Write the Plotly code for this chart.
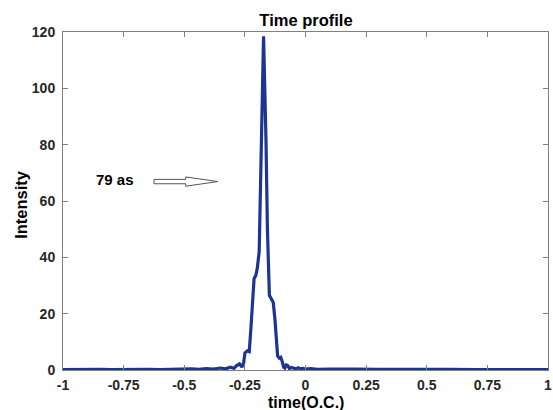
import plotly.graph_objects as go

# time axis (optical cycles)
time_oc = [-1.0, -0.95, -0.9, -0.85, -0.8, -0.75, -0.7, -0.65, -0.6, -0.55,
           -0.5, -0.47, -0.44, -0.41, -0.38, -0.35, -0.33, -0.31, -0.295, -0.285,
           -0.272, -0.262, -0.255, -0.25, -0.24, -0.232, -0.225, -0.217, -0.212, -0.205,
           -0.199, -0.191, -0.182, -0.173, -0.163, -0.157, -0.149, -0.141, -0.133, -0.126,
           -0.12, -0.115, -0.108, -0.102, -0.096, -0.09, -0.085, -0.079, -0.073, -0.066,
           -0.058, -0.05, -0.04, -0.03, -0.02, -0.01, 0.0, 0.02, 0.05, 0.1,
           0.15, 0.2, 0.3, 0.4, 0.5, 0.6, 0.7, 0.8, 0.9, 1.0]

intensity = [0.1, 0.2, 0.1, 0.25, 0.1, 0.2, 0.1, 0.25, 0.15, 0.3,
             0.2, 0.4, 0.2, 0.5, 0.3, 0.7, 0.4, 1.0, 0.6, 1.5,
             2.2, 1.0, 2.5, 6.0, 6.8, 6.5, 15.0, 28.0, 32.5, 33.5,
             36.0, 42.0, 80.0, 118.5, 82.0, 50.0, 26.5, 25.5, 24.0, 18.0,
             12.0, 5.0, 4.2, 4.5, 3.0, 1.0, 0.7, 1.8, 1.5, 0.5,
             0.9, 0.6, 0.4, 0.8, 0.4, 0.6, 0.3, 0.5, 0.2, 0.35,
             0.2, 0.3, 0.2, 0.25, 0.15, 0.2, 0.1, 0.2, 0.1, 0.1]

x_ticks = [-1, -0.75, -0.5, -0.25, 0, 0.25, 0.5, 0.75, 1]
x_tick_labels = ["-1", "-0.75", "-0.5", "-0.25", "0", "0.25", "0.5", "0.75", "1"]
y_ticks = [0, 20, 40, 60, 80, 100, 120]

label_text = "79 as"
label_pos = (-0.786, 67.6)
arrow_x = (-0.625, -0.494, -0.362)   # tail, head base, tip
arrow_y = 66.9
shaft_half = 0.78
head_half = 1.65

FONT = "Liberation Sans, Arial, sans-serif"
AX = "#808080"
TXT = "#262626"

fig = go.Figure()
fig.add_trace(go.Scatter(
    x=time_oc, y=intensity, mode="lines",
    line=dict(color="#1c3594", width=3.2),
    hoverinfo="skip", showlegend=False,
))

xt, xb, xp = arrow_x
path = (f"M {xt},{arrow_y - shaft_half} L {xb},{arrow_y - shaft_half} "
        f"L {xb},{arrow_y - head_half} L {xp},{arrow_y} "
        f"L {xb},{arrow_y + head_half} L {xb},{arrow_y + shaft_half} "
        f"L {xt},{arrow_y + shaft_half} Z")
fig.add_shape(type="path", path=path, xref="x", yref="y",
              line=dict(color="#555555", width=1), fillcolor="white")

fig.add_annotation(x=label_pos[0], y=label_pos[1], xref="x", yref="y",
                   text=f"<b>{label_text}</b>", showarrow=False,
                   font=dict(family=FONT, size=15, color="black"))

# axis titles
fig.add_annotation(x=0.5, y=-0.096, xref="paper", yref="paper",
                   xanchor="center", yanchor="middle", showarrow=False,
                   text="<b>time(O.C.)</b>",
                   font=dict(family=FONT, size=16, color="black"))
fig.add_annotation(x=-0.0856, y=0.49, xref="paper", yref="paper",
                   xanchor="center", yanchor="middle", showarrow=False,
                   textangle=-90, text="<b>Intensity</b>",
                   font=dict(family=FONT, size=16.5, color="black"))

fig.update_layout(
    width=553, height=410,
    margin=dict(l=63, r=5, t=32, b=40, autoexpand=False),
    paper_bgcolor="white", plot_bgcolor="white",
    title=dict(text="<b>Time profile</b>", x=0.5533, xanchor="center",
               y=0.951, yanchor="middle", automargin=False,
               font=dict(family=FONT, size=16.5, color="black")),
    font=dict(family=FONT, color=TXT),
)
fig.update_xaxes(
    range=[-1, 1], tickvals=x_ticks, ticktext=[f"<b>{t}</b>" for t in x_tick_labels],
    ticks="inside", ticklen=5, tickcolor=AX, showline=True, linecolor=AX,
    linewidth=1, mirror="ticks", showgrid=False, zeroline=False,
    tickfont=dict(family=FONT, size=14, color=TXT), ticklabelstandoff=2,
    automargin=False,
)
fig.update_yaxes(
    range=[0, 120], tickvals=y_ticks, ticktext=[f"<b>{v}</b>" for v in y_ticks],
    ticks="inside", ticklen=5, tickcolor=AX, showline=True, linecolor=AX,
    linewidth=1, mirror="ticks", showgrid=False, zeroline=False,
    tickfont=dict(family=FONT, size=14, color=TXT), ticklabelstandoff=4,
    automargin=False,
)

fig.write_html("out.html", config={"displayModeBar": False},
               post_script="document.body.style.margin='0';")
